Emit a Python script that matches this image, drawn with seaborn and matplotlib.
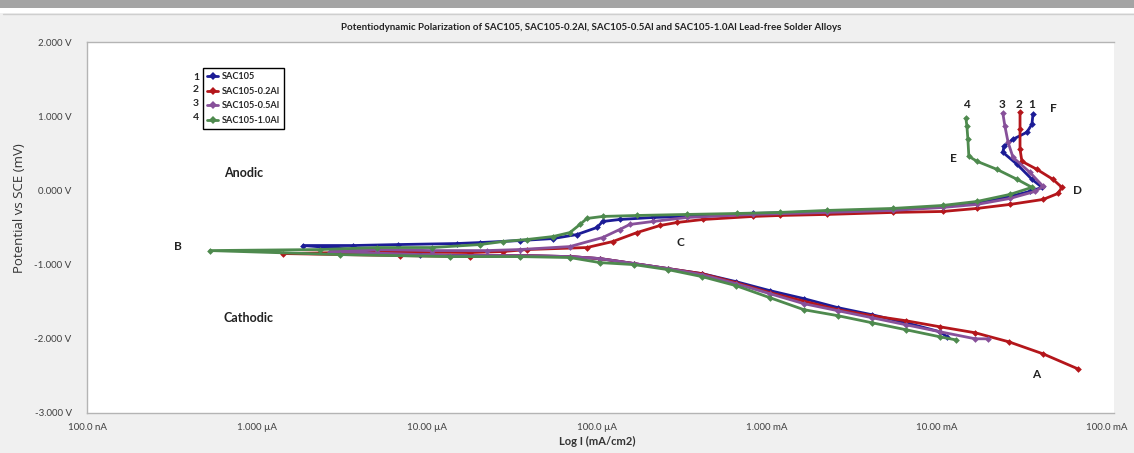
import matplotlib
matplotlib.use("Agg")
import matplotlib.pyplot as plt
from matplotlib.lines import Line2D
from matplotlib.patches import Rectangle
from matplotlib.ticker import LogLocator, MultipleLocator, NullFormatter
import pandas as pd
import seaborn as sns

# series names and colours
alloys = ["SAC105", "SAC105-0.2Al", "SAC105-0.5Al", "SAC105-1.0Al"]
colors = ["#1c1c96", "#b4161b", "#87509a", "#4e8a4e"]

# current (A) and potential (V):
# cathodic end -> corrosion dip -> anodic branch -> passive top
sac105_i = [1.15e-2, 1.04e-2, 6.58e-3, 4.15e-3, 2.62e-3, 1.65e-3, 1.04e-3, 6.58e-4,
            4.15e-4, 2.62e-4, 1.65e-4, 1.04e-4, 6.93e-5, 3.52e-5, 1.79e-5, 9.1e-6,
            1.87e-6,
            3.67e-6, 6.74e-6, 1.50e-5, 2.05e-5, 3.52e-5, 5.51e-5, 7.62e-5, 1.0e-4,
            1.08e-4, 1.36e-4, 2.13e-4, 3.38e-4, 8.28e-4, 2.25e-3, 5.51e-3, 1.08e-2,
            1.72e-2, 2.69e-2, 3.52e-2, 4.15e-2,
            3.62e-2, 2.96e-2, 2.44e-2, 2.48e-2, 2.80e-2, 3.38e-2, 3.62e-2, 3.67e-2]
sac105_v = [-1.973, -1.905, -1.784, -1.676, -1.581, -1.459, -1.351, -1.230,
            -1.122, -1.054, -0.986, -0.919, -0.892, -0.878, -0.878, -0.865,
            -0.743,
            -0.743, -0.730, -0.716, -0.703, -0.676, -0.649, -0.595, -0.500,
            -0.419, -0.392, -0.365, -0.351, -0.311, -0.284, -0.257, -0.216,
            -0.176, -0.081, -0.014, 0.041,
            0.149, 0.351, 0.514, 0.595, 0.689, 0.784, 0.892, 1.027]

al02_i = [6.74e-2, 4.21e-2, 2.65e-2, 1.68e-2, 1.04e-2, 6.58e-3, 4.15e-3, 2.62e-3,
          1.04e-3, 6.58e-4, 4.15e-4, 2.62e-4, 1.65e-4, 1.04e-4, 6.93e-5, 3.52e-5,
          1.79e-5, 6.93e-6,
          1.42e-6,
          3.08e-6, 6.74e-6, 1.79e-5, 2.80e-5, 3.87e-5, 8.73e-5, 1.24e-4, 1.72e-4,
          2.35e-4, 2.96e-4, 4.21e-4, 8.28e-4, 1.19e-3, 2.25e-3, 5.51e-3, 1.08e-2,
          1.72e-2, 2.69e-2, 4.21e-2, 5.15e-2, 5.43e-2,
          4.81e-2, 3.87e-2, 3.16e-2, 3.08e-2, 3.08e-2, 3.08e-2]
al02_v = [-2.405, -2.203, -2.041, -1.919, -1.838, -1.757, -1.689, -1.608,
          -1.378, -1.243, -1.122, -1.054, -0.986, -0.919, -0.892, -0.878,
          -0.892, -0.878,
          -0.851,
          -0.838, -0.824, -0.838, -0.824, -0.797, -0.770, -0.689, -0.568,
          -0.473, -0.432, -0.392, -0.351, -0.338, -0.324, -0.297, -0.284,
          -0.243, -0.189, -0.122, -0.041, 0.041,
          0.149, 0.284, 0.392, 0.554, 0.824, 1.054]

al05_i = [2.0e-2, 1.68e-2, 1.04e-2, 6.58e-3, 4.15e-3, 2.62e-3, 1.65e-3, 1.04e-3,
          6.58e-4, 4.15e-4, 2.62e-4, 1.65e-4, 1.04e-4, 6.93e-5, 3.52e-5, 1.36e-5,
          2.68e-6,
          5.08e-6, 1.07e-5, 2.25e-5, 3.52e-5, 6.93e-5, 1.08e-4, 1.36e-4, 1.56e-4,
          2.13e-4, 3.38e-4, 8.28e-4, 2.25e-3, 5.51e-3, 1.08e-2, 1.72e-2, 2.69e-2,
          3.77e-2, 4.21e-2,
          3.52e-2, 2.80e-2, 2.62e-2, 2.51e-2, 2.44e-2]
al05_v = [-2.0, -2.0, -1.905, -1.811, -1.716, -1.622, -1.527, -1.392,
          -1.257, -1.135, -1.054, -0.986, -0.919, -0.892, -0.878, -0.878,
          -0.824,
          -0.797, -0.811, -0.811, -0.797, -0.757, -0.635, -0.527, -0.459,
          -0.419, -0.365, -0.324, -0.297, -0.270, -0.230, -0.189, -0.108,
          -0.014, 0.054,
          0.243, 0.446, 0.649, 0.865, 1.041]

al10_i = [1.29e-2, 1.04e-2, 6.58e-3, 4.15e-3, 2.62e-3, 1.65e-3, 1.04e-3, 6.58e-4,
          4.15e-4, 2.62e-4, 1.65e-4, 1.04e-4, 6.93e-5, 3.52e-5, 1.36e-5, 3.08e-6,
          5.29e-7,
          2.35e-6, 5.08e-6, 1.07e-5, 2.05e-5, 2.80e-5, 3.87e-5, 5.51e-5, 6.93e-5,
          7.94e-5, 8.73e-5, 1.08e-4, 1.72e-4, 3.38e-4, 6.67e-4, 1.19e-3, 2.25e-3,
          5.51e-3, 1.08e-2, 1.72e-2, 2.69e-2, 3.62e-2,
          2.96e-2, 2.25e-2, 1.72e-2, 1.54e-2, 1.52e-2, 1.50e-2, 1.48e-2]
al10_v = [-2.014, -1.973, -1.878, -1.784, -1.689, -1.608, -1.446, -1.284,
          -1.162, -1.068, -1.0, -0.973, -0.905, -0.892, -0.892, -0.865,
          -0.811,
          -0.797, -0.770, -0.770, -0.730, -0.689, -0.662, -0.622, -0.568,
          -0.459, -0.378, -0.351, -0.338, -0.324, -0.311, -0.297, -0.270,
          -0.243, -0.203, -0.149, -0.054, 0.041,
          0.149, 0.284, 0.392, 0.459, 0.689, 0.865, 0.973]

x_ticks = [1e-7, 1e-6, 1e-5, 1e-4, 1e-3, 1e-2, 1e-1]
x_tick_labels = ["100.0 nA", "1.000 µA", "10.00 µA", "100.0 µA",
                 "1.000 mA", "10.00 mA", "100.0 mA"]
y_ticks = [-3, -2, -1, 0, 1, 2]
y_tick_labels = ["-3.000 V", "-2.000 V", "-1.000 V", "0.000 V", "1.000 V", "2.000 V"]

series = {
    "SAC105": (sac105_i, sac105_v),
    "SAC105-0.2Al": (al02_i, al02_v),
    "SAC105-0.5Al": (al05_i, al05_v),
    "SAC105-1.0Al": (al10_i, al10_v),
}


def main():
    frames = []
    for name, (cur, pot) in series.items():
        frames.append(pd.DataFrame({"alloy": name, "current": cur,
                                    "potential": pot, "step": range(len(cur))}))
    df = pd.concat(frames, ignore_index=True)

    sns.set_style("white")
    plt.rcParams["font.family"] = ["Lato", "DejaVu Sans"]

    fig = plt.figure(figsize=(11.34, 4.53), dpi=100)
    fig.patch.set_facecolor("#f0f0f0")
    # window chrome at the top
    fig.add_artist(Rectangle((0, 1 - 8 / 453), 1, 8 / 453, transform=fig.transFigure,
                             color="#a4a4a4", lw=0))
    fig.add_artist(Rectangle((0, 1 - 13 / 453), 1, 5 / 453, transform=fig.transFigure,
                             color="#ffffff", lw=0))
    fig.add_artist(Line2D([0.003, 1], [1 - 13.5 / 453] * 2, transform=fig.transFigure,
                          color="#cfcfcf", lw=1))

    ax = fig.add_axes([87 / 1134, 1 - 413 / 453, (1114 - 87) / 1134, 371 / 453])
    ax.set_facecolor("white")

    sns.lineplot(data=df, x="current", y="potential", hue="alloy",
                 hue_order=alloys, palette=colors, sort=False, estimator=None,
                 units="alloy", marker="D", markersize=3.4, markeredgewidth=0,
                 linewidth=2.0, legend=False, ax=ax)

    ax.set_xscale("log")
    ax.set_xlim(1e-7, 0.11)
    ax.set_ylim(-3, 2)
    ax.set_xticks(x_ticks)
    ax.set_xticklabels(x_tick_labels)
    ax.xaxis.set_minor_locator(LogLocator(base=10, subs=range(2, 10), numticks=20))
    ax.xaxis.set_minor_formatter(NullFormatter())
    ax.set_yticks(y_ticks)
    ax.set_yticklabels(y_tick_labels)
    ax.yaxis.set_minor_locator(MultipleLocator(0.2))
    ax.tick_params(axis="both", which="major", direction="out", length=4,
                   width=0.8, color="#a0a0a0", labelsize=7, labelcolor="#404040")
    ax.tick_params(axis="y", which="major", pad=7)
    ax.tick_params(axis="x", which="major", pad=3)
    ax.tick_params(axis="both", which="minor", direction="out", length=3,
                   width=0.6, color="#a0a0a0")
    ax.set_xlabel("")
    ax.set_ylabel("")
    for side in ["top", "left", "bottom"]:
        ax.spines[side].set_color("#b4b4b4")
        ax.spines[side].set_linewidth(1.0)
    ax.spines["right"].set_visible(False)

    fig.text(0.521, 1 - 28 / 453,
             "Potentiodynamic Polarization of SAC105, SAC105-0.2Al, SAC105-0.5Al "
             "and SAC105-1.0Al Lead-free Solder Alloys",
             ha="center", va="center", fontsize=7, fontweight="bold", color="#222222")
    fig.text(20 / 1134, 1 - 208 / 453, "Potential vs SCE (mV)", rotation=90,
             ha="center", va="center", fontsize=9.5, family=["Open Sans", "DejaVu Sans"],
             color="#333333")
    fig.text(597 / 1134, 1 - 441 / 453, "Log I (mA/cm2)", ha="center", va="center",
             fontsize=8, fontweight="bold", color="#333333")

    # legend with the curve numbers beside it
    handles = [Line2D([0], [0], color=c, lw=2, marker="D", markersize=4,
                      markeredgewidth=0) for c in colors]
    leg = ax.legend(handles, alloys, loc="upper left",
                    bbox_to_anchor=((203 - 87) / 1027, (413 - 68) / 371),
                    frameon=True, fancybox=False, edgecolor="black", framealpha=1,
                    handlelength=1.2, handletextpad=0.4, borderpad=0.45,
                    borderaxespad=0, labelspacing=0.62,
                    prop={"size": 6.6, "weight": "bold"})
    leg.get_frame().set_linewidth(1.0)
    for num, yy in zip(["1", "2", "3", "4"], [77, 90, 103, 117]):
        ax.text((196 - 87) / 1027, (413 - yy) / 371, num, transform=ax.transAxes,
                ha="center", va="center", fontsize=7.5, fontweight="bold")

    notes = [("4", 966, 104), ("3", 1002, 104), ("2", 1019, 104), ("1", 1032, 104),
             ("F", 1053, 109), ("E", 953, 159), ("D", 1077, 190), ("C", 680, 242),
             ("B", 178, 246), ("A", 1036, 375)]
    for txt, px, py in notes:
        ax.text((px - 87) / 1027, (413 - py) / 371, txt, transform=ax.transAxes,
                ha="center", va="center", fontsize=8.5, fontweight="bold",
                color="#222222")
    ax.text((224 - 87) / 1027, (413 - 173) / 371, "Anodic", transform=ax.transAxes,
            ha="left", va="center", fontsize=9, fontweight="bold", color="#222222")
    ax.text((224 - 87) / 1027, (413 - 318) / 371, "Cathodic", transform=ax.transAxes,
            ha="left", va="center", fontsize=9, fontweight="bold", color="#222222")

    fig.savefig("out.png", dpi=100, facecolor=fig.get_facecolor())
    plt.close(fig)


if __name__ == "__main__":
    main()
